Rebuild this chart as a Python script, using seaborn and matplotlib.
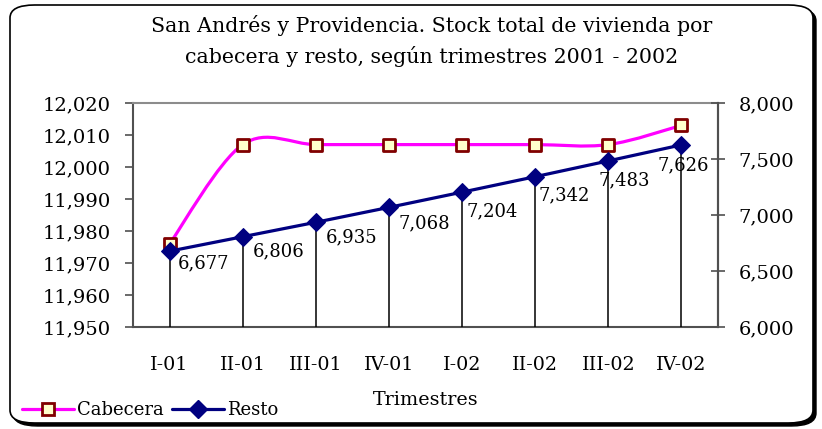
import numpy as np
import pandas as pd
import matplotlib
matplotlib.use('Agg')
import matplotlib.pyplot as plt
import seaborn as sns
from matplotlib.path import Path
from matplotlib.patches import PathPatch, FancyBboxPatch
from matplotlib.lines import Line2D

# ---- data ----
trimestres = ["I-01", "II-01", "III-01", "IV-01", "I-02", "II-02", "III-02", "IV-02"]
cabecera = [11976, 12007, 12007, 12007, 12007, 12007, 12007, 12013]
resto = [6677, 6806, 6935, 7068, 7204, 7342, 7483, 7626]
left_ticks = [11950, 11960, 11970, 11980, 11990, 12000, 12010, 12020]
right_ticks = [6000, 6500, 7000, 7500, 8000]
title = "San Andrés y Providencia. Stock total de vivienda por\ncabecera y resto, según trimestres 2001 - 2002"
xlabel = "Trimestres"

# label offsets (pixels) for data labels of Resto
label_off_px = [(8, -12), (10, -15), (10, -15), (10, -16), (4, -19), (3, -19), (-10, -19), (-24, -20)]

sns.set_style('white')
plt.rcParams['font.family'] = ['DejaVu Serif']
for k in ['text.color', 'xtick.color', 'ytick.color', 'axes.labelcolor']:
    plt.rcParams[k] = 'black'

W, H = 822, 429
fig = plt.figure(figsize=(W / 100, H / 100), dpi=100)

# border with shadow
sh = FancyBboxPatch((13 / W, 1 - 426 / H), 803 / W, 418 / H,
                    boxstyle="round,pad=0,rounding_size=0.03",
                    transform=fig.transFigure, facecolor='black', edgecolor='black', lw=1, zorder=-3)
fig.patches.append(sh)
bd = FancyBboxPatch((10 / W, 1 - 423 / H), 803 / W, 418 / H,
                    boxstyle="round,pad=0,rounding_size=0.03",
                    transform=fig.transFigure, facecolor='white', edgecolor='black', lw=1.2, zorder=-2)
fig.patches.append(bd)

ax = fig.add_axes([133 / W, 1 - 327 / H, (718 - 133) / W, (327 - 103) / H])
ax.set_facecolor('none')
ax2 = ax.twinx()

x = np.arange(len(trimestres))
df = pd.DataFrame({'x': x, 'trimestre': trimestres, 'cabecera': cabecera, 'resto': resto})

# smoothed Cabecera line (Excel-style Bezier smoothing through the data points)
pts = [np.array(p, float) for p in zip(x, cabecera)]
n = len(pts)
verts = [tuple(pts[0])]
codes = [Path.MOVETO]
for i in range(n - 1):
    p0 = pts[i - 1] if i > 0 else pts[i]
    p1 = pts[i]
    p2 = pts[i + 1]
    p3 = pts[i + 2] if i + 2 < n else pts[i + 1]
    c1 = p1 + (p2 - p0) / 6
    c2 = p2 - (p3 - p1) / 6
    verts += [tuple(c1), tuple(c2), tuple(p2)]
    codes += [Path.CURVE4] * 3
ax.add_patch(PathPatch(Path(verts, codes), fill=False, edgecolor='#FF00FF', lw=2.3, zorder=2))
sns.scatterplot(data=df, x='x', y='cabecera', marker='s', s=85, color='#FFFFCC',
                edgecolor='#800000', linewidth=2.0, ax=ax, zorder=3, legend=False)

# Resto on secondary axis
ax2.vlines(x, right_ticks[0], resto, color='black', lw=1.1, zorder=1)
sns.lineplot(data=df, x='x', y='resto', marker='D', markersize=9, color='#000080',
             markeredgecolor='#000080', lw=2.3, ax=ax2, zorder=3)
for xi, v, (dx, dy) in zip(x, resto, label_off_px):
    ax2.annotate(f"{v:,}", (xi, v), xytext=(dx * 0.72, dy * 0.72), textcoords='offset points',
                 ha='left', va='center', fontsize=13, color='black', zorder=4)

ax.set_xlim(-0.5, len(trimestres) - 0.5)
ax.set_ylim(left_ticks[0], left_ticks[-1])
ax2.set_ylim(right_ticks[0], right_ticks[-1])

ax.set_yticks(left_ticks)
ax.set_yticklabels([f"{v:,}" for v in left_ticks])
ax2.set_yticks(right_ticks)
ax2.set_yticklabels([f"{v:,}" for v in right_ticks])

ax.set_xticks(np.arange(-0.5, len(trimestres), 1.0))
ax.set_xticklabels([])
ax.set_xticks(x, minor=True)
ax.set_xticklabels(trimestres, minor=True)
ax.tick_params(axis='x', which='major', direction='out', length=7, width=1.2, color='#505050')
ax.tick_params(axis='x', which='minor', length=0, pad=21, labelsize=13.8)
ax.tick_params(axis='y', direction='out', length=6, width=1.2, color='#505050', labelsize=14, pad=10)
ax2.tick_params(axis='y', direction='inout', length=10, width=1.2, color='#505050', labelsize=14, pad=10)

ax.set_ylabel('')
ax2.set_ylabel('')
ax.set_xlabel(xlabel, fontsize=13.8, labelpad=12)

for s in ['left', 'bottom', 'right']:
    ax.spines[s].set_color('#505050')
    ax.spines[s].set_linewidth(1.5)
ax.spines['top'].set_color('#8c8c8c')
ax.spines['top'].set_linewidth(1.5)
for s in ['left', 'bottom', 'top']:
    ax2.spines[s].set_visible(False)
ax2.spines['right'].set_color('#505050')
ax2.spines['right'].set_linewidth(1.5)

fig.text(432 / W, 1 - 41 / H, title, ha='center', va='center', fontsize=14.8, linespacing=1.6)

handles = [
    Line2D([], [], color='#FF00FF', lw=2.3, marker='s', markersize=9, markerfacecolor='#FFFFCC',
           markeredgecolor='#800000', markeredgewidth=2.0),
    Line2D([], [], color='#000080', lw=2.3, marker='D', markersize=9, markerfacecolor='#000080',
           markeredgecolor='#000080'),
]
fig.legend(handles, ['Cabecera', 'Resto'], loc='center left', bbox_to_anchor=(22 / W, 1 - 410 / H),
           ncol=2, frameon=False, fontsize=13, handlelength=2.9, handletextpad=0.15,
           columnspacing=0.45, borderaxespad=0, borderpad=0)

fig.savefig('out.png', dpi=100)
